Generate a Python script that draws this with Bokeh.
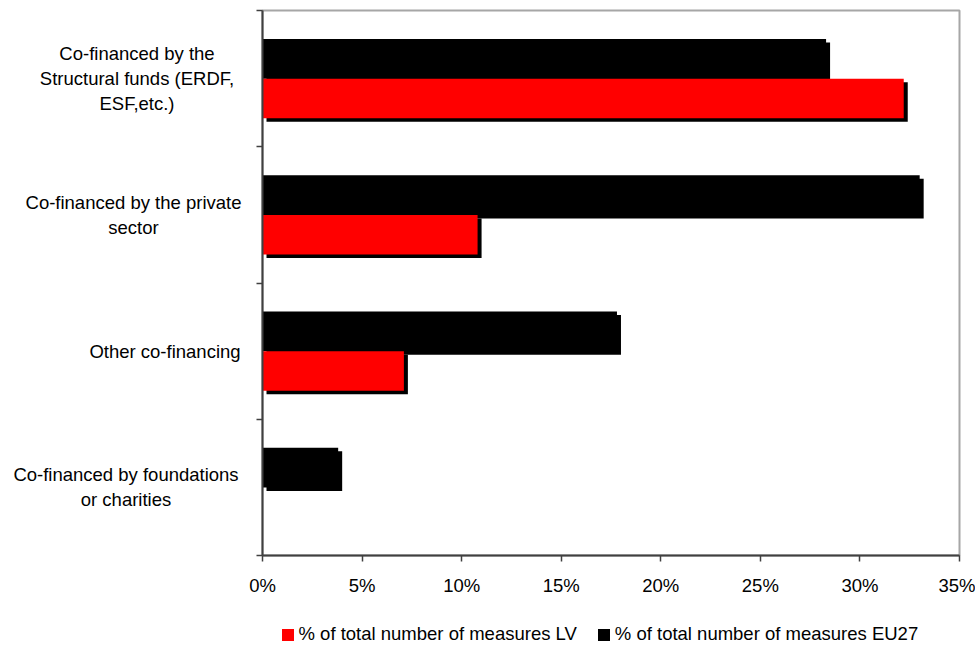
from bokeh.plotting import figure
from bokeh.layouts import row, column
from bokeh.models import (Range1d, FixedTicker, PrintfTickFormatter,
                          Legend, LegendItem)
from bokeh.core.properties import value
from bokeh.embed import file_html
from bokeh.resources import INLINE

# ---------------- data ----------------
categories = [
    "Co-financed by the\nStructural funds (ERDF,\nESF,etc.)",
    "Co-financed by the private\nsector",
    "Other co-financing",
    "Co-financed by foundations\nor charities",
]
lv_values = [32.2, 10.8, 7.1, 0.0]
eu27_values = [28.3, 33.0, 17.8, 3.8]
x_ticks = [0, 5, 10, 15, 20, 25, 30, 35]
series_names = ["% of total number of measures LV",
                "% of total number of measures EU27"]
series_colors = ["#ff0000", "black"]

# ---------------- layout / style ----------------
W = 975
LABEL_W = 242                 # width of category-label column
MAIN_W = W - LABEL_W
MAIN_H = 600
LEG_H = 46
TOP, BOTTOM = 10, 555         # frame top / bottom (px)
FRAME_L = 20                  # main frame left inside main figure
FRAME_R = MAIN_W - 16
XMAX = 35
n = len(categories)
FONT = "Liberation Sans"
FS = "18.5px"
AXIS_COL = "#404040"

y_range = Range1d(0, n)

p = figure(width=MAIN_W, height=MAIN_H, output_backend="svg",
           toolbar_location=None,
           x_range=Range1d(0, XMAX), y_range=y_range,
           min_border_left=FRAME_L, min_border_right=MAIN_W - FRAME_R,
           min_border_top=TOP, min_border_bottom=MAIN_H - BOTTOM,
           background_fill_color="white", border_fill_color="white")
p.grid.visible = False
p.outline_line_color = "#a6a6a6"
p.outline_line_width = 2

xpx = (FRAME_R - FRAME_L) / XMAX
ypx = (BOTTOM - TOP) / n
dx = 4 / xpx                  # shadow offset
dy = 3.5 / ypx
bar_h = 0.29
off = 0.145

centers = [n - i - 0.5 for i in range(n)]
eu_y = [c + off for c in centers]
lv_y = [c - off for c in centers]

# shadows
p.hbar(y=[v - dy for v in eu_y], left=dx, right=[v + dx for v in eu27_values],
       height=bar_h, fill_color="black", line_color=None)
p.hbar(y=[v - dy for v in lv_y], left=[dx if v > 0 else 0 for v in lv_values],
       right=[v + dx if v > 0 else 0 for v in lv_values],
       height=bar_h, fill_color="black", line_color=None)
# main bars
p.hbar(y=eu_y, left=0, right=eu27_values, height=bar_h,
       fill_color=series_colors[1], line_color=None)
p.hbar(y=lv_y, left=0, right=lv_values, height=bar_h,
       fill_color=series_colors[0], line_color=None)

ax = p.xaxis[0]
ax.ticker = FixedTicker(ticks=x_ticks)
ax.formatter = PrintfTickFormatter(format="%d%%")
ax.axis_line_color = AXIS_COL
ax.axis_line_width = 2
ax.major_tick_line_color = AXIS_COL
ax.major_tick_line_width = 1.5
ax.major_tick_out = 6
ax.major_tick_in = 0
ax.minor_tick_line_color = None
ax.major_label_text_font = FONT
ax.major_label_text_font_size = FS
ax.major_label_text_color = "black"
ax.major_label_standoff = 13

ay = p.yaxis[0]
ay.ticker = FixedTicker(ticks=list(range(n + 1)))
ay.major_label_overrides = {i: "" for i in range(n + 1)}
ay.axis_line_color = AXIS_COL
ay.axis_line_width = 2
ay.major_tick_line_color = AXIS_COL
ay.major_tick_line_width = 1.5
ay.major_tick_out = 6
ay.major_tick_in = 0
ay.minor_tick_line_color = None

# ---------------- category labels column ----------------
lab = figure(width=LABEL_W, height=MAIN_H, output_backend="svg",
             toolbar_location=None, x_range=Range1d(0, LABEL_W),
             y_range=y_range, x_axis_location=None, y_axis_location=None,
             min_border_left=0, min_border_right=0,
             min_border_top=TOP, min_border_bottom=MAIN_H - BOTTOM,
             outline_line_color=None)
lab.grid.visible = False
label_cx = [136.5, 133, 164.5, 125.5]     # centre of each label block
lab.text(x=label_cx, y=centers, text=categories,
         text_align="center", text_baseline="middle",
         text_font=value(FONT), text_font_size=FS,
         text_color="black", text_line_height=1.18)

# ---------------- legend strip ----------------
leg = figure(width=W, height=LEG_H, output_backend="svg",
             toolbar_location=None, x_range=Range1d(0, 1),
             y_range=Range1d(0, 1), x_axis_location=None,
             y_axis_location=None, min_border=0, outline_line_color=None)
leg.grid.visible = False
items = []
for name, col in zip(series_names, series_colors):
    # zero-length proxy bar: only supplies the legend swatch
    r = leg.hbar(y=[0], left=[0], right=[0], height=0,
                 fill_color=col, line_color=None)
    items.append(LegendItem(label=name, renderers=[r]))
legend = Legend(items=items, orientation="horizontal", location=(279.5, 1),
                padding=0, margin=0, spacing=19, label_standoff=4,
                glyph_width=15, glyph_height=15,
                label_text_font=FONT, label_text_font_size=FS,
                label_text_color="black",
                border_line_color=None, background_fill_alpha=0)
leg.add_layout(legend)

layout = column(row(lab, p), leg)
open("out.html", "w").write(file_html(layout, INLINE))
